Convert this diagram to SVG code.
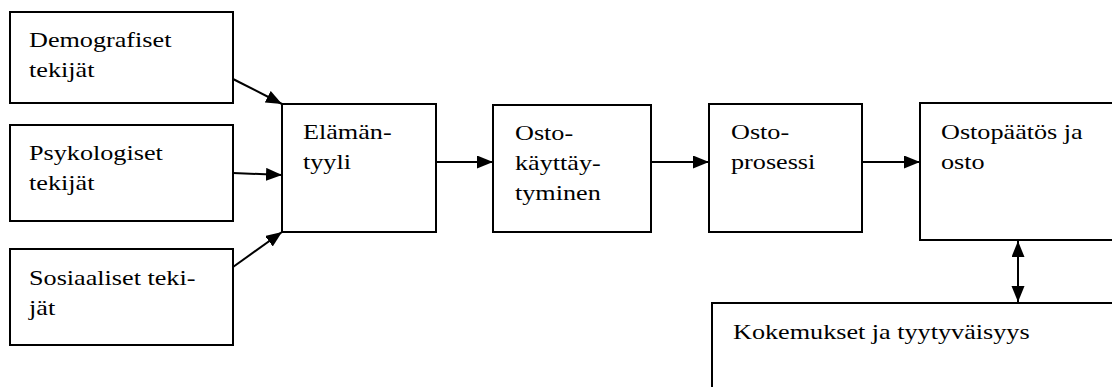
<svg xmlns="http://www.w3.org/2000/svg" width="1112" height="387" viewBox="0 0 1112 387">
  <style>
    .box { fill: #ffffff; stroke: #000000; stroke-width: 2; }
    .lbl { font-family: 'Liberation Serif', 'DejaVu Serif', serif; font-size: 22px; fill: #000000; }
    .conn { stroke: #000000; stroke-width: 2; fill: none; }
  </style>
  <defs>
    <marker id="head" markerUnits="userSpaceOnUse" markerWidth="17" markerHeight="14" refX="16" refY="6.5" orient="auto-start-reverse">
      <path d="M0,0 L16,6.5 L0,13 z" fill="#000000"/>
    </marker>
  </defs>
  <rect width="1112" height="387" fill="#ffffff"/>

  <g id="demografiset">
    <rect class="box" x="10" y="12" width="223" height="91"/>
    <text class="lbl" font-family="Liberation Serif, serif" transform="translate(29,47) scale(1.19,1)"><tspan x="0" y="0">Demografiset</tspan><tspan x="0" y="30">tekijät</tspan></text>
  </g>

  <g id="psykologiset">
    <rect class="box" x="10" y="125" width="223" height="96"/>
    <text class="lbl" transform="translate(29,160) scale(1.19,1)"><tspan x="0" y="0">Psykologiset</tspan><tspan x="0" y="30">tekijät</tspan></text>
  </g>

  <g id="sosiaaliset">
    <rect class="box" x="10" y="249" width="223" height="96"/>
    <text class="lbl" transform="translate(29,285) scale(1.19,1)"><tspan x="0" y="0">Sosiaaliset teki-</tspan><tspan x="0" y="30">jät</tspan></text>
  </g>

  <g id="elamantyyli">
    <rect class="box" x="282" y="104" width="154" height="128"/>
    <text class="lbl" transform="translate(303,139) scale(1.19,1)"><tspan x="0" y="0">Elämän-</tspan><tspan x="0" y="30">tyyli</tspan></text>
  </g>

  <g id="ostokayttaytyminen">
    <rect class="box" x="493" y="105" width="158" height="127"/>
    <text class="lbl" transform="translate(515,140) scale(1.19,1)"><tspan x="0" y="0">Osto-</tspan><tspan x="0" y="30">käyttäy-</tspan><tspan x="0" y="60">tyminen</tspan></text>
  </g>

  <g id="ostoprosessi">
    <rect class="box" x="709" y="104" width="153" height="128"/>
    <text class="lbl" transform="translate(731,139) scale(1.19,1)"><tspan x="0" y="0">Osto-</tspan><tspan x="0" y="30">prosessi</tspan></text>
  </g>

  <g id="ostopaatos">
    <rect class="box" x="920" y="103" width="210" height="137"/>
    <text class="lbl" transform="translate(941,139) scale(1.19,1)"><tspan x="0" y="0">Ostopäätös ja</tspan><tspan x="0" y="30">osto</tspan></text>
  </g>

  <g id="kokemukset">
    <rect class="box" x="712" y="303" width="420" height="100"/>
    <text class="lbl" transform="translate(733,339) scale(1.19,1)">Kokemukset ja tyytyväisyys</text>
  </g>

  <g id="connectors">
    <line class="conn" x1="233" y1="79" x2="282" y2="104" marker-end="url(#head)"/>
    <line class="conn" x1="233" y1="173" x2="282" y2="175" marker-end="url(#head)"/>
    <line class="conn" x1="233" y1="267" x2="282" y2="232" marker-end="url(#head)"/>
    <line class="conn" x1="436" y1="162" x2="493" y2="162" marker-end="url(#head)"/>
    <line class="conn" x1="651" y1="162" x2="709" y2="162" marker-end="url(#head)"/>
    <line class="conn" x1="862" y1="162" x2="920" y2="162" marker-end="url(#head)"/>
    <line class="conn" x1="1018" y1="241" x2="1018" y2="302" marker-start="url(#head)" marker-end="url(#head)"/>
  </g>
</svg>
